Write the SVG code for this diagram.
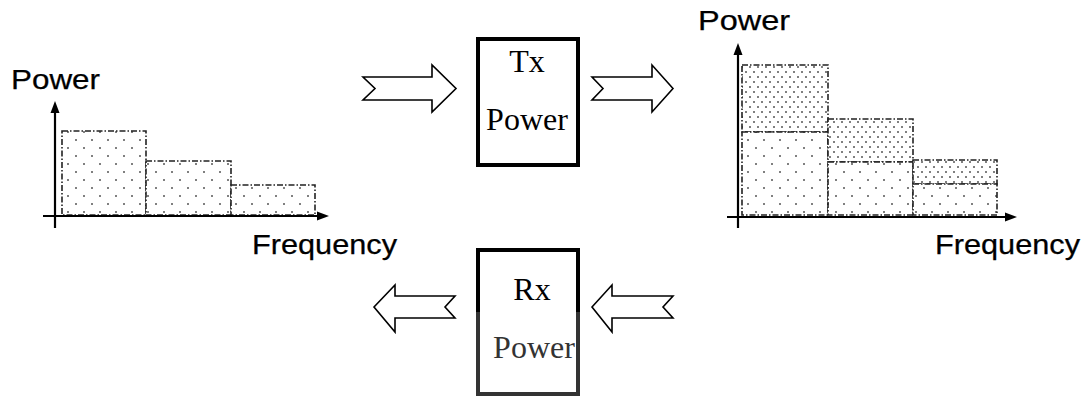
<svg xmlns="http://www.w3.org/2000/svg" width="1092" height="398" viewBox="0 0 1092 398">
<style>
.lbl{font-family:"Liberation Sans",Arial,sans-serif;font-size:28px;fill:#000;stroke:#000;stroke-width:0.25}
.box{font-family:"Liberation Serif","Times New Roman",serif;font-size:32px;text-anchor:middle}
.axis{stroke:#000;stroke-width:2.2;fill:none}
.ah{fill:#000}
.bar{stroke:#222;stroke-width:1.6;stroke-dasharray:6 2 1.5 2}
.sparse{fill:url(#sparse)}
.dense{fill:url(#dense)}
.blk{fill:#fff;stroke:#000;stroke-width:1.6;stroke-linejoin:miter}
</style>
<defs>
<pattern id="sparse" width="16" height="16" patternUnits="userSpaceOnUse">
<rect width="16" height="16" fill="#fff"/>
<circle cx="4" cy="4" r="1" fill="#555"/>
<circle cx="12" cy="12" r="1" fill="#555"/>
</pattern>
<pattern id="dense" width="8" height="10" patternUnits="userSpaceOnUse">
<rect width="8" height="10" fill="#fff"/>
<circle cx="2" cy="2" r="1" fill="#555"/>
<circle cx="6" cy="7" r="1" fill="#555"/>
</pattern>
</defs>

<g id="chart-left">
<rect class="bar sparse" x="62" y="131" width="84" height="84"/>
<rect class="bar sparse" x="146" y="161" width="85" height="54"/>
<rect class="bar sparse" x="231" y="185" width="84" height="30"/>
<line class="axis" x1="55" y1="228" x2="55" y2="110"/>
<polygon class="ah" points="55,101 50.5,113 59.5,113"/>
<line class="axis" x1="43" y1="216" x2="320" y2="216"/>
<polygon class="ah" points="329,216 317,211.5 317,220.5"/>
<text class="lbl" x="11" y="89" textLength="89" lengthAdjust="spacingAndGlyphs">Power</text>
<text class="lbl" x="252" y="254" textLength="145" lengthAdjust="spacingAndGlyphs">Frequency</text>
</g>

<g id="chart-right">
<rect class="bar dense" x="742" y="65" width="86" height="67"/>
<rect class="bar sparse" x="742" y="132" width="86" height="83"/>
<rect class="bar dense" x="828" y="119" width="85" height="43"/>
<rect class="bar sparse" x="828" y="162" width="85" height="53"/>
<rect class="bar dense" x="913" y="160" width="84" height="24"/>
<rect class="bar sparse" x="913" y="184" width="84" height="31"/>
<line class="axis" x1="738" y1="228" x2="738" y2="52"/>
<polygon class="ah" points="738,43 733.5,55 742.5,55"/>
<line class="axis" x1="727" y1="217" x2="1008" y2="217"/>
<polygon class="ah" points="1017,217 1005,212.5 1005,221.5"/>
<text class="lbl" x="698" y="30" textLength="92" lengthAdjust="spacingAndGlyphs">Power</text>
<text class="lbl" x="935" y="254" textLength="145" lengthAdjust="spacingAndGlyphs">Frequency</text>
</g>

<g id="tx-box">
<rect x="478" y="39" width="100" height="126" fill="#fff" stroke="#000" stroke-width="4"/>
<text class="box" x="527" y="72" font-size="33">Tx</text>
<text class="box" x="527" y="130">Power</text>
</g>

<g id="rx-box">
<rect x="478" y="250" width="100" height="144" fill="#fff" stroke="#333" stroke-width="4"/>
<polyline points="478,312 478,250 578,250 578,312" fill="none" stroke="#000" stroke-width="4"/>
<text class="box" x="532" y="300" fill="#000" font-size="33">Rx</text>
<text class="box" x="534" y="358" fill="#333">Power</text>
</g>

<g id="connectors">
<polygon class="blk" points="363,77 432,77 432,65 456,88.5 432,112 432,100 363,100 375,88.5"/>
<polygon class="blk" points="592,77 652,77 652,65 673,88.5 652,112 652,100 592,100 603,88.5"/>
<polygon class="blk" points="374,307 395,285 395,296 455,296 445,307 455,318 395,318 395,332"/>
<polygon class="blk" points="592,307 612,285 612,296 673,296 663,307 673,318 612,318 612,332"/>
</g>
</svg>
